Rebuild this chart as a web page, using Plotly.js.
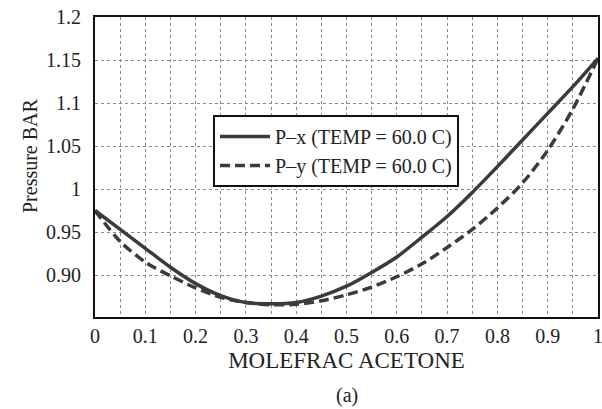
<!DOCTYPE html>
<html>
<head>
<meta charset="utf-8">
<script src="https://cdn.plot.ly/plotly-3.0.1.min.js"></script>
<style>
  html, body { margin: 0; padding: 0; background: #fff; }
  #chart { width: 602px; height: 409px; }
</style>
</head>
<body>
<div id="chart"></div>
<script>
// Mole fraction of acetone (liquid x / vapour y)
const moleFrac = [0, 0.05, 0.1, 0.15, 0.2, 0.25, 0.3, 0.35, 0.4, 0.45, 0.5,
                  0.55, 0.6, 0.65, 0.7, 0.75, 0.8, 0.85, 0.9, 0.95, 1.0];
// Bubble-point pressure, bar (P-x)
const pressureX = [0.975, 0.953, 0.931, 0.909, 0.890, 0.876, 0.868, 0.8665, 0.868, 0.8755, 0.887,
                   0.903, 0.921, 0.944, 0.968, 0.996, 1.026, 1.057, 1.088, 1.119, 1.152];
// Dew-point pressure, bar (P-y)
const pressureY = [0.975, 0.939, 0.915, 0.899, 0.885, 0.874, 0.868, 0.8655, 0.866, 0.870, 0.877,
                   0.886, 0.898, 0.913, 0.932, 0.953, 0.978, 1.007, 1.045, 1.093, 1.152];

const seriesNames = ['P\u2013x (TEMP = 60.0 C)', 'P\u2013y (TEMP = 60.0 C)'];
const xTickVals = [0, 0.1, 0.2, 0.3, 0.4, 0.5, 0.6, 0.7, 0.8, 0.9, 1];
const xTickText = ['0', '0.1', '0.2', '0.3', '0.4', '0.5', '0.6', '0.7', '0.8', '0.9', '1'];
const yTickVals = [0.90, 0.95, 1.0, 1.05, 1.1, 1.15, 1.2];
const yTickText = ['0.90', '0.95', '1', '1.05', '1.1', '1.15', '1.2'];

const serif = 'Liberation Serif';
const ink = '#222';
const curve = '#3b3b3b';

const traces = [
  {
    x: moleFrac, y: pressureX, name: seriesNames[0], mode: 'lines',
    line: { color: curve, width: 3.5, shape: 'spline', smoothing: 0.8 }
  },
  {
    x: moleFrac, y: pressureY, name: seriesNames[1], mode: 'lines',
    line: { color: curve, width: 3.5, dash: '10px,5px', shape: 'spline', smoothing: 0.8 }
  }
];

const gridStyle = { gridcolor: '#8a8a8a', gridwidth: 1, griddash: 'dot' };

const layout = {
  width: 602, height: 409,
  margin: { l: 95, r: 4, t: 17, b: 92 },
  paper_bgcolor: '#fff', plot_bgcolor: '#fff',
  font: { family: serif, size: 20, color: ink },
  showlegend: true,
  legend: {
    x: 0.2346, y: 0.673, xanchor: 'left', yanchor: 'top',
    bgcolor: '#fff', bordercolor: '#111', borderwidth: 2,
    font: { family: serif, size: 20, color: ink },
    itemwidth: 50, tracegroupgap: 0
  },
  xaxis: Object.assign({
    range: [0, 1], tickvals: xTickVals, ticktext: xTickText,
    showgrid: true, zeroline: false,
    showline: true, mirror: true, linecolor: '#111', linewidth: 2,
    ticks: '', ticklabelstandoff: 0, ticklabeloverflow: 'allow',
    tickfont: { family: serif, size: 20, color: ink },
    minor: Object.assign({ dtick: 0.05, showgrid: true, ticks: '' }, gridStyle),
    title: { text: 'MOLEFRAC ACETONE', font: { family: serif, size: 23, color: ink }, standoff: 6 }
  }, gridStyle),
  yaxis: Object.assign({
    range: [0.8512, 1.2], tickvals: yTickVals, ticktext: yTickText,
    showgrid: true, zeroline: false,
    showline: true, mirror: true, linecolor: '#111', linewidth: 2,
    ticks: '', ticklabelstandoff: 8,
    tickfont: { family: serif, size: 20, color: ink }
  }, gridStyle),
  annotations: [
    {
      text: 'Pressure BAR', textangle: -90, showarrow: false,
      xref: 'paper', yref: 'paper', x: -0.129, y: 0.537,
      xanchor: 'center', yanchor: 'middle',
      font: { family: serif, size: 20, color: ink }
    },
    {
      text: '(a)', showarrow: false,
      xref: 'paper', yref: 'paper', x: 0.5, y: -0.26,
      xanchor: 'center', yanchor: 'middle',
      font: { family: serif, size: 20, color: ink }
    }
  ]
};

Plotly.newPlot('chart', traces, layout, { staticPlot: true, displayModeBar: false });
</script>
</body>
</html>
